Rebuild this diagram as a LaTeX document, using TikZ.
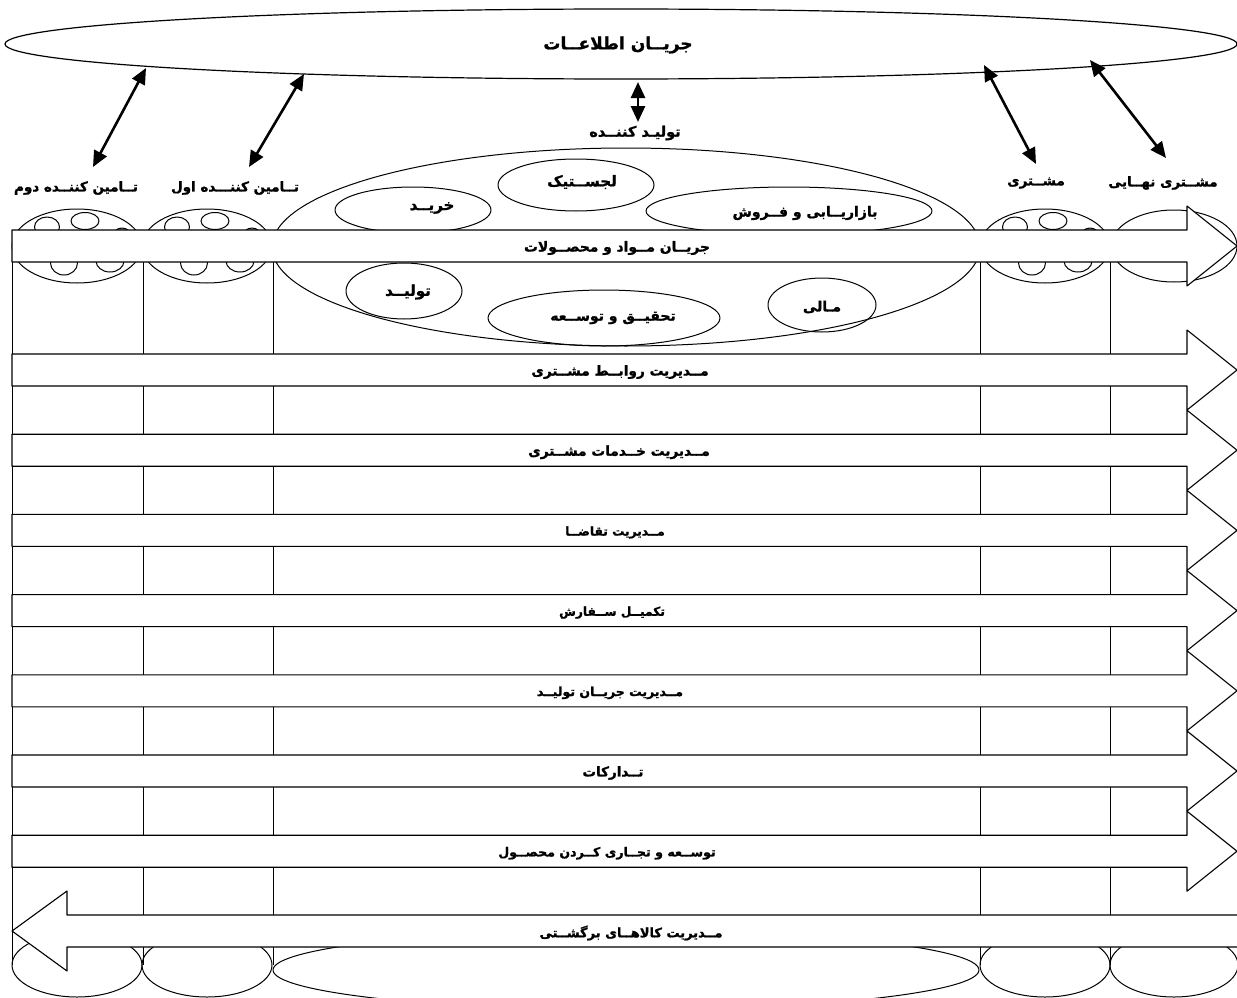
\documentclass[tikz,border=0pt]{standalone}
\usepackage{fontspec}
\newfontfamily\farsi[Script=Arabic,BoldFeatures={FakeBold=1.2}]{DejaVu Sans}
\TeXXeTstate=1
\usetikzlibrary{arrows.meta}
\newcommand{\fa}[1]{\farsi\bfseries\beginR #1\endR}

\begin{document}
\begin{tikzpicture}[x=1pt,y=-1pt,line join=round,
    cylline/.style={line width=1pt},
    flowarrow/.style={draw,line width=1.1pt,fill=white},
    linkarrow/.style={line width=2.6pt,{Triangle[length=16pt,width=14pt]}-{Triangle[length=16pt,width=14pt]}},
    toplabel/.style={inner sep=0pt,font=\fontsize{13.5}{16}\selectfont},
    unitlabel/.style={inner sep=0pt,font=\fontsize{14}{16}\selectfont},
    flowlabel/.style={inner sep=0pt,font=\fontsize{13}{15}\selectfont}]
    \useasboundingbox (0,0) rectangle (1237,998);

    % information flow on top
    \draw[line width=1.2pt] (621,44) ellipse [x radius=616,y radius=35];
    \node[toplabel,font=\fontsize{17}{20}\selectfont] (info) at (618,45) {\fa{جریــان اطلاعــات}};

    \node[toplabel] (sup2) at (76,188) {\fa{تــامین کننــده دوم}};
    \node[toplabel] (sup1) at (235,188) {\fa{تــامین کننـــده اول}};
    \node[toplabel,font=\fontsize{14.5}{17}\selectfont] (prod) at (635,133) {\fa{تولیـد کننــده}};
    \node[toplabel] (cust) at (1036,183) {\fa{مشــتری}};
    \node[toplabel] (endcust) at (1163,183) {\fa{مشــتری نهــایی}};

    \coordinate (i2) at (146,68);  \coordinate (s2) at (93,167);
    \coordinate (i1) at (304,74);  \coordinate (s1) at (249,167);
    \coordinate (ip) at (638,82);  \coordinate (p0) at (638,122);
    \coordinate (ic) at (984,65);  \coordinate (c0) at (1036,164);
    \coordinate (ie) at (1090,60); \coordinate (e0) at (1166,158);
    \draw[linkarrow] (i2) -- (s2);
    \draw[linkarrow] (i1) -- (s1);
    \draw[linkarrow] (ip) -- (p0);
    \draw[linkarrow] (ic) -- (c0);
    \draw[linkarrow] (ie) -- (e0);

    % column lines
    \draw[cylline] (12,230) -- (12,965);
    \foreach \vx in {143,273,980,1110}
        \draw[cylline] (\vx,250) -- (\vx,965);

    % suppliers and customer: tops with small circles
    \foreach \cx in {77,207,1045} {
        \draw[cylline] (\cx,246) ellipse [x radius=65,y radius=37];
        \draw[cylline] (\cx-30,227) ellipse [x radius=12.5,y radius=10];
        \draw[cylline] (\cx+8,221) ellipse [x radius=14,y radius=8.5];
        \draw[cylline,fill=gray!60] (\cx+45,238) circle [radius=10];
        \draw[cylline] (\cx-13,263) ellipse [x radius=13.5,y radius=12];
        \draw[cylline] (\cx+33,261) ellipse [x radius=14,y radius=11];
    }
    \draw[cylline] (1174,246) ellipse [x radius=63,y radius=36];

    % producer
    \draw[cylline] (626,247) ellipse [x radius=354,y radius=99];
    \draw[cylline] (576,185) ellipse [x radius=78,y radius=26];
    \draw[cylline] (413,210) ellipse [x radius=78,y radius=23];
    \draw[cylline] (789,211) ellipse [x radius=143,y radius=24];
    \draw[cylline] (404,291) ellipse [x radius=58,y radius=28];
    \draw[cylline] (604,318) ellipse [x radius=116,y radius=28];
    \draw[cylline] (822,305) ellipse [x radius=54,y radius=27];
    \node[unitlabel,font=\fontsize{15}{17}\selectfont] (logistic) at (582,182) {\fa{لجســتیک}};
    \node[unitlabel,font=\fontsize{15}{17}\selectfont] (buy) at (432,208) {\fa{خریــد}};
    \node[unitlabel] (market) at (805,213) {\fa{بازاریــابی و فــروش}};
    \node[unitlabel,font=\fontsize{15}{17}\selectfont] (make) at (408,292) {\fa{تولیــد}};
    \node[unitlabel] (rnd) at (613,318) {\fa{تحقیــق و توســعه}};
    \node[unitlabel] (finance) at (822,307) {\fa{مـالی}};

    % bottoms
    \foreach \cx/\rx in {77/65,207/65,1045/65,1174/64}
        \draw[cylline] (\cx,965) ellipse [x radius=\rx,y radius=32];
    \draw[cylline] (626,970) ellipse [x radius=353,y radius=40];

    % processes
    \foreach \yc/\xt/\fs/\txt [count=\i] in {
        246/617/13.8/{جریــان مــواد و محصــولات},
        370/620/13.7/{مــدیریت روابــط مشــتری},
        450.2/619/13.7/{مــدیریت خــدمات مشــتری},
        530.4/615/12.2/{مــدیریت تقاضــا},
        610.6/612/12.2/{تکمیــل ســفارش},
        690.8/610/12.5/{مــدیریت جریــان تولیــد},
        771/613/13.5/{تــدارکات},
        851.2/607/12.6/{توســعه و تجــاری کــردن محصــول}} {
        \draw[flowarrow] (12,\yc-16) -- (1187,\yc-16) -- (1187,\yc-40) -- (1237,\yc)
            -- (1187,\yc+40) -- (1187,\yc+16) -- (12,\yc+16) -- cycle;
        \node[flowlabel,font=\fontsize{\fs}{15}\selectfont] (flow\i) at (\xt,\yc+2) {\fa{\txt}};
    }
    \draw[flowarrow] (1245,915) -- (67,915) -- (67,891) -- (12,931) -- (67,971)
        -- (67,947) -- (1245,947);
    \node[flowlabel] (returns) at (631,933) {\fa{مــدیریت کالاهــای برگشــتی}};
\end{tikzpicture}
\end{document}
